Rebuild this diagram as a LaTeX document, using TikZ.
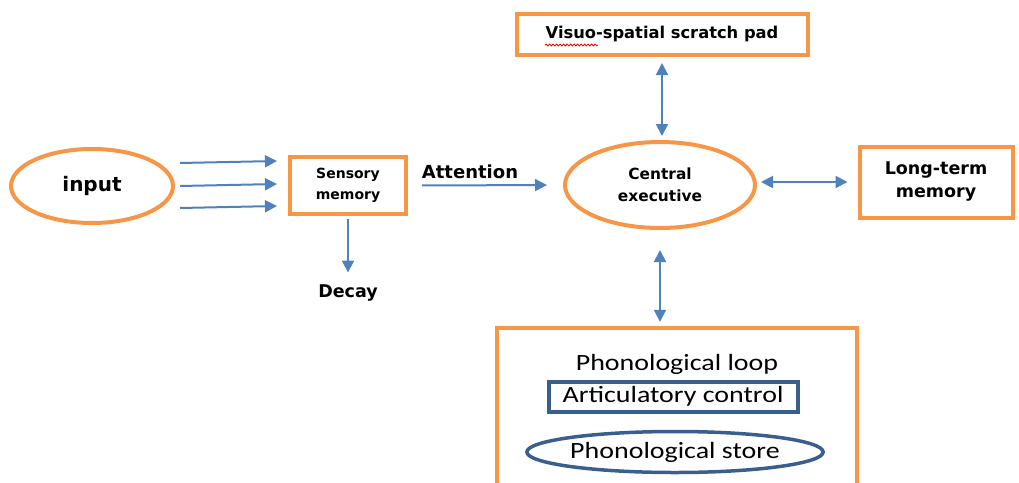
\documentclass[tikz,border=0pt]{standalone}
\usepackage{fontspec}
\setmainfont{DejaVu Sans}
\newfontfamily\calfont[FakeStretch=1.2]{Carlito}
\usetikzlibrary{arrows.meta,decorations.pathmorphing,calc,shapes.geometric}
\definecolor{orng}{HTML}{F79646}
\definecolor{arrblue}{HTML}{4F81BD}
\definecolor{darkblue}{HTML}{3A5F8F}
\begin{document}
\begin{tikzpicture}[x=1pt,y=-1pt,
  obox/.style={draw=orng, line width=4pt, inner sep=0pt},
  oell/.style={draw=orng, line width=4pt, ellipse, inner sep=0pt},
  lbl/.style={inner sep=0pt, align=center},
  arr/.style={draw=arrblue, line width=2pt, -{Triangle[length=12pt,width=12pt]}},
  dbl/.style={draw=arrblue, line width=2pt, {Triangle[length=12pt,width=12pt]}-{Triangle[length=12pt,width=12pt]}},
  bbox/.style={draw=darkblue, line width=4pt, inner sep=0pt, font=\calfont\fontsize{23.3}{26}\selectfont},
  bell/.style={draw=darkblue, line width=3.5pt, ellipse, inner sep=0pt, font=\calfont\fontsize{23.3}{26}\selectfont}
]
\useasboundingbox (0,0) rectangle (1019,482);

% nodes
\node[oell, minimum width=162pt, minimum height=74pt, font={\fontsize{20}{22}\selectfont\bfseries}] (input) at (92,186)
  {input};
\node[obox, minimum width=116pt, minimum height=57pt, align=center, font={\fontsize{14}{21}\selectfont\bfseries}] (sens) at (348,185.5)
  {Sensory\\memory};
\node[lbl, font={\fontsize{17.5}{20}\selectfont\bfseries}] (decay) at (348,293) {Decay};
\node[lbl, font={\fontsize{18}{20}\selectfont\bfseries}] (att) at (470,172) {Attention};
\node[oell, minimum width=190pt, minimum height=86pt, align=center, font={\fontsize{15.4}{22}\selectfont\bfseries}] (ce) at (660,185)
  {Central\\executive};
\node[obox, minimum width=291pt, minimum height=41pt, font={\fontsize{16.3}{18}\selectfont\bfseries}] (visuo) at (662,34.5)
  {Visuo-spatial scratch pad};
\node[obox, minimum width=153pt, minimum height=71pt, align=center, font={\fontsize{17.5}{23}\selectfont\bfseries}] (ltm) at (936,182)
  {Long-term\\memory};
\node[draw=none, minimum width=360pt, minimum height=164pt, inner sep=0pt] (phono) at (677,410) {};
\draw[draw=orng, line width=4pt] (phono.south west) |- (phono.north east) -- (phono.south east);
\node[inner sep=0pt, font=\calfont\fontsize{23.3}{26}\selectfont] (ploop) at (677,364) {Phonological loop};
\node[bbox, minimum width=249pt, minimum height=30pt] (artic) at (673,396.5) {Articulatory control};
\node[bell, minimum width=282pt, minimum height=41pt] (store) at (675,452) {Phonological store};

% spell-check squiggle
\draw[red, line width=0.8pt, decorate, decoration={snake, amplitude=1pt, segment length=3.5pt}]
  (545,45) -- (598,45);

% input arrows
\coordinate (i1) at (180,163); \coordinate (s1) at (277,161);
\coordinate (i2) at (180,186); \coordinate (s2) at (277,184);
\coordinate (i3) at (180,208); \coordinate (s3) at (277,206);
\draw[arr] (i1) -- (s1);
\draw[arr] (i2) -- (s2);
\draw[arr] (i3) -- (s3);

% other connectors
\draw[arr, shorten <=3pt, shorten >=12pt] (sens.south) -- (decay.north);
\draw[arr, shorten <=14pt, shorten >=16pt] (sens.east) -- (ce.west);
\draw[dbl, shorten <=6pt, shorten >=4pt] (visuo.south -| 662,0) -- (ce.north -| 662,0);
\draw[dbl, shorten <=4pt, shorten >=10pt] ($(ce.east)+(0,-3)$) -- ($(ltm.west)+(0,0)$);
\draw[dbl, shorten <=20pt, shorten >=6pt] (ce.south) -- (ce.south |- phono.north);
\end{tikzpicture}
\end{document}
